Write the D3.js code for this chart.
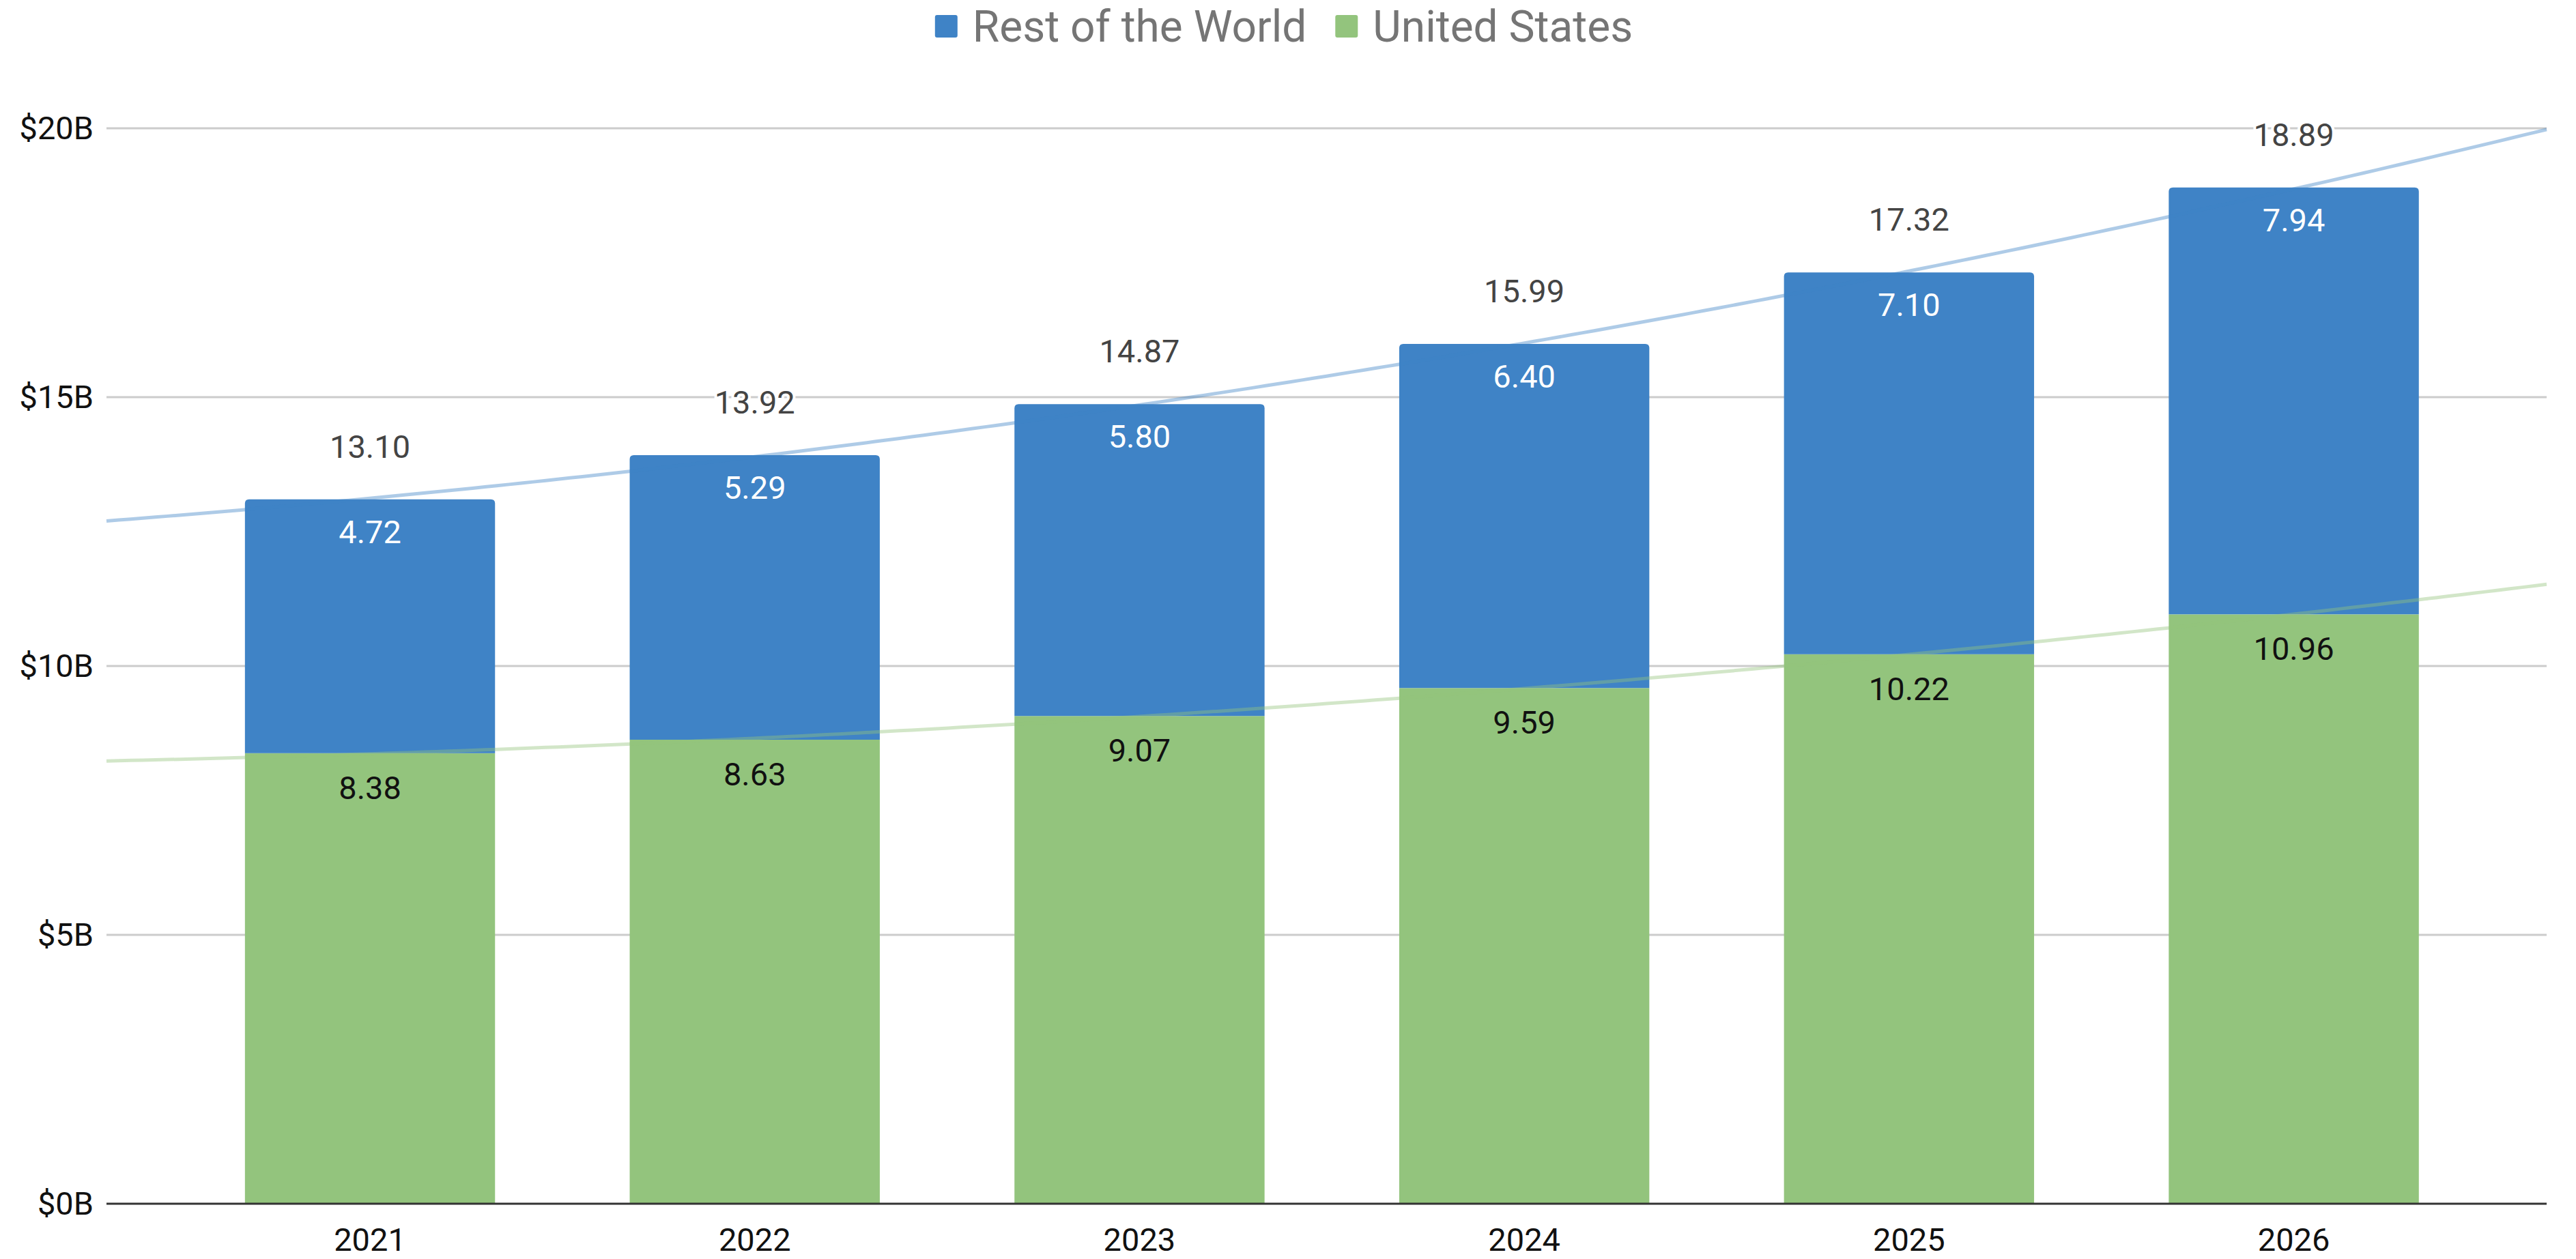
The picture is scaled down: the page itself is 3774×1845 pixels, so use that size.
<!DOCTYPE html>
<html>
<head>
<style type="text/css">
body { margin: 0; background: #fff; }
text { font-family: Roboto, "Noto Sans", sans-serif; }
.grid line { stroke: #cccccc; stroke-width: 3; }
.trend { fill: none; stroke-width: 5; stroke-opacity: 0.42; }
</style>
<script src="https://d3js.org/d3.v7.min.js"></script>
</head>
<body>
<script type="text/javascript">
var width = 3774;
var height = 1845;

var years = ["2021", "2022", "2023", "2024", "2025", "2026"];
var restOfWorld = [4.72, 5.29, 5.80, 6.40, 7.10, 7.94];
var unitedStates = [8.38, 8.63, 9.07, 9.59, 10.22, 10.96];
var totals = [13.10, 13.92, 14.87, 15.99, 17.32, 18.89];
var yTicks = [0, 5, 10, 15, 20];
var seriesNames = ["Rest of the World", "United States"];
var colors = { row: "#3f83c6", us: "#93c47d" };

var plotLeft = 156, plotRight = 3731, plotTop = 188, plotBottom = 1764;

var svg = d3.select("body").append("svg").attr("width", width).attr("height", height);

var x = d3.scaleBand().domain(years).range([plotLeft, plotRight])
	.paddingInner(0.35).paddingOuter(0.346).align(0.52);
var y = d3.scaleLinear().domain([0, 20]).range([plotBottom, plotTop]);
var bw = x.bandwidth();

// gridlines
svg.append("g").attr("class", "grid").selectAll("line").data(yTicks.slice(1)).enter()
	.append("line")
	.attr("x1", plotLeft).attr("x2", plotRight)
	.attr("y1", function(d) { return y(d); }).attr("y2", function(d) { return y(d); });

// y tick labels
svg.append("g").selectAll("text").data(yTicks).enter()
	.append("text")
	.attr("x", plotLeft - 19)
	.attr("y", function(d) { return y(d); })
	.attr("dy", "0.35em")
	.attr("text-anchor", "end")
	.attr("font-size", 47)
	.attr("fill", "#111")
	.text(function(d) { return "$" + d + "B"; });

var rows = years.map(function(yr, i) { return { year: yr, us: unitedStates[i], row: restOfWorld[i] }; });
var stack = d3.stack().keys(["us", "row"])(rows);

// green (US) bars
svg.append("g").selectAll("rect").data(stack[0]).enter()
	.append("rect")
	.attr("x", function(d) { return x(d.data.year); })
	.attr("width", bw)
	.attr("y", function(d) { return y(d[1]); })
	.attr("height", function(d) { return y(d[0]) - y(d[1]); })
	.attr("fill", colors.us);

// blue (rest of world) bars with rounded top corners
var r = 6;
svg.append("g").selectAll("path").data(stack[1]).enter()
	.append("path")
	.attr("fill", colors.row)
	.attr("d", function(d) {
		var x0 = x(d.data.year), x1 = x0 + bw, y0 = y(d[0]), y1 = y(d[1]);
		return "M" + x0 + "," + y0 + "V" + (y1 + r) + "Q" + x0 + "," + y1 + " " + (x0 + r) + "," + y1 +
			"H" + (x1 - r) + "Q" + x1 + "," + y1 + " " + x1 + "," + (y1 + r) + "V" + y0 + "Z";
	});

// quadratic least squares trendline
function quadFit(vals) {
	var s = [0, 0, 0, 0, 0], t = [0, 0, 0];
	vals.forEach(function(v, i) {
		var xv = i + 1;
		for (var k = 0; k < 5; k++) s[k] += Math.pow(xv, k);
		for (var k2 = 0; k2 < 3; k2++) t[k2] += v * Math.pow(xv, k2);
	});
	var m = [[s[0], s[1], s[2], t[0]], [s[1], s[2], s[3], t[1]], [s[2], s[3], s[4], t[2]]];
	for (var c = 0; c < 3; c++) {
		for (var rr = c + 1; rr < 3; rr++) {
			var f = m[rr][c] / m[c][c];
			for (var k3 = c; k3 < 4; k3++) m[rr][k3] -= f * m[c][k3];
		}
	}
	var coef = [0, 0, 0];
	for (var c2 = 2; c2 >= 0; c2--) {
		var sum = m[c2][3];
		for (var k4 = c2 + 1; k4 < 3; k4++) sum -= m[c2][k4] * coef[k4];
		coef[c2] = sum / m[c2][c2];
	}
	return function(xv) { return coef[0] + coef[1] * xv + coef[2] * xv * xv; };
}

var xi = d3.scaleLinear().domain([1, years.length])
	.range([x(years[0]) + bw / 2, x(years[years.length - 1]) + bw / 2]);
var steps = d3.range(0, 201).map(function(k) { return plotLeft + (plotRight - plotLeft) * k / 200; });

var trendLine = d3.line().x(function(d) { return d[0]; }).y(function(d) { return y(d[1]); });
[[totals, colors.row], [unitedStates, colors.us]].forEach(function(s) {
	var fit = quadFit(s[0]);
	svg.append("path")
		.attr("class", "trend")
		.attr("stroke", s[1])
		.attr("d", trendLine(steps.map(function(px) { return [px, fit(xi.invert(px))]; })));
});

// baseline
svg.append("line")
	.attr("x1", plotLeft).attr("x2", plotRight)
	.attr("y1", y(0)).attr("y2", y(0))
	.attr("stroke", "#333").attr("stroke-width", 3);

// x labels
svg.append("g").selectAll("text").data(years).enter()
	.append("text")
	.attr("x", function(d) { return x(d) + bw / 2; })
	.attr("y", 1833)
	.attr("text-anchor", "middle")
	.attr("font-size", 47)
	.attr("fill", "#111")
	.text(function(d) { return d; });

// segment labels
svg.append("g").selectAll("text").data(stack[0]).enter()
	.append("text")
	.attr("x", function(d) { return x(d.data.year) + bw / 2; })
	.attr("y", function(d) { return y(d[1]) + 67; })
	.attr("text-anchor", "middle")
	.attr("font-size", 47)
	.attr("fill", "#111")
	.text(function(d) { return d.data.us.toFixed(2); });

svg.append("g").selectAll("text").data(stack[1]).enter()
	.append("text")
	.attr("x", function(d) { return x(d.data.year) + bw / 2; })
	.attr("y", function(d) { return y(d[1]) + 64; })
	.attr("text-anchor", "middle")
	.attr("font-size", 47)
	.attr("fill", "#ffffff")
	.text(function(d) { return d.data.row.toFixed(2); });

// total labels
svg.append("g").selectAll("text").data(totals).enter()
	.append("text")
	.attr("x", function(d, i) { return x(years[i]) + bw / 2; })
	.attr("y", function(d) { return y(d) - 61; })
	.attr("text-anchor", "middle")
	.attr("font-size", 47)
	.attr("fill", "#444")
	.attr("stroke", "#fff").attr("stroke-width", 8).attr("paint-order", "stroke")
	.text(function(d) { return d.toFixed(2); });

// legend
var legend = svg.append("g");
var lx = 0;
var items = [[seriesNames[0], colors.row], [seriesNames[1], colors.us]];
items.forEach(function(it) {
	var g = legend.append("g").attr("transform", "translate(" + lx + ",0)");
	g.append("rect").attr("x", 0).attr("y", 22).attr("width", 33).attr("height", 33).attr("rx", 3).attr("fill", it[1]);
	var t = g.append("text").attr("x", 55).attr("y", 61).attr("font-size", 64).attr("fill", "#757575").text(it[0]);
	lx += 55 + t.node().getComputedTextLength() + 42;
});
var lw = lx - 42;
legend.attr("transform", "translate(" + (1367 + (2395 - 1367 - lw) / 2) + ",0)");
</script>
</body>
</html>
